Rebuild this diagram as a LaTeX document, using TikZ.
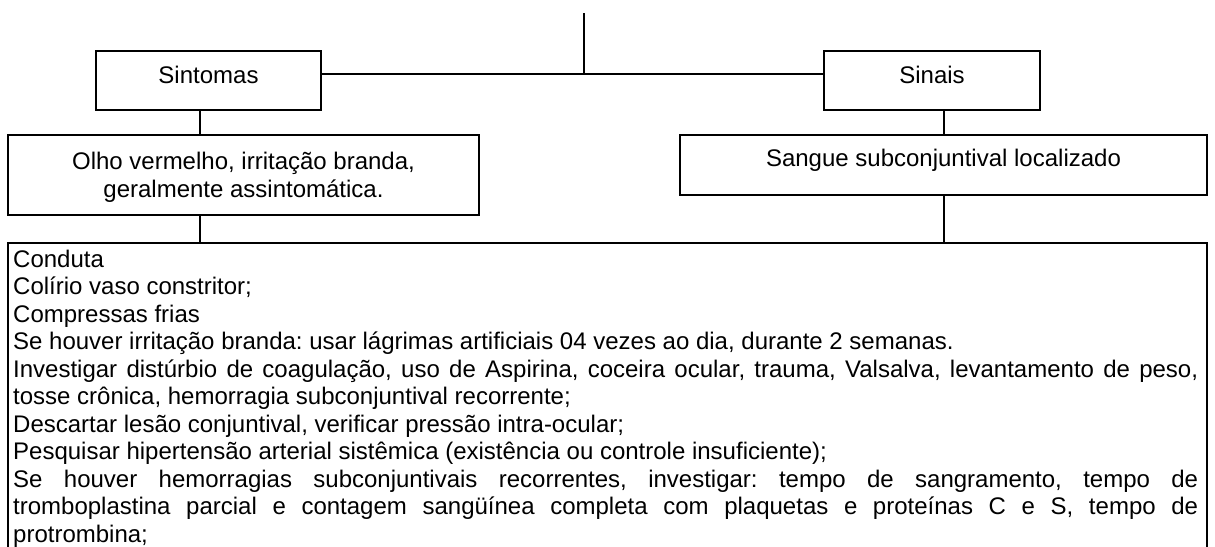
\documentclass[tikz,border=0pt]{standalone}
\usepackage{fontspec}
\setmainfont{Liberation Sans}
\setlength{\parindent}{0pt}
\setlength{\parskip}{0pt}
\tolerance=10000
\hyphenpenalty=10000
\frenchspacing

\begin{document}
\begin{tikzpicture}[x=1pt,y=-1pt,
  caixa/.style={draw, line width=1.6pt, inner sep=0pt, font=\fontsize{24}{27.5}\selectfont},
  linha/.style={line width=1.6pt}]

\useasboundingbox (0,0) rectangle (1215,546);

% Points for the connectors
\coordinate (topo) at (584,13);
\coordinate (juncao) at (584,74);
\coordinate (colE) at (200,0);
\coordinate (colD) at (944,0);
\coordinate (borda) at (0,243);

% Upper boxes
\node[caixa, minimum width=225pt, minimum height=59pt, text height=17.5pt, text depth=11.3pt] (sintomas) at (208.5,80.5) {Sintomas};
\node[caixa, minimum width=216pt, minimum height=59pt, text height=17.5pt, text depth=11.3pt] (sinais) at (932,80.5) {Sinais};

% Second row
\node[caixa, minimum width=471pt, minimum height=80pt, align=center, text depth=0pt] (olho) at (243.5,175)
  {Olho vermelho, irritação branda,\\ geralmente assintomática.};
\node[caixa, minimum width=527pt, minimum height=60pt, text height=17.5pt, text depth=14.3pt] (sangue) at (943.5,165) {Sangue subconjuntival localizado};

% Lower box, open at the bottom
\draw[linha] (8,560) |- (1207,243) -- (1207,560);
\node[anchor=north west, inner sep=0pt, text width=1185pt, align=justify,
  font=\fontsize{24}{27.5}\selectfont] (conduta) at (13,249.5) {%
Conduta\par
Colírio vaso constritor;\par
Compressas frias\par
Se houver irritação branda: usar lágrimas artificiais 04 vezes ao dia, durante 2 semanas.\par
Investigar distúrbio de coagulação, uso de Aspirina, coceira ocular, trauma, Valsalva, levantamento de peso,\linebreak tosse crônica, hemorragia subconjuntival recorrente;\par
Descartar lesão conjuntival, verificar pressão intra-ocular;\par
Pesquisar hipertensão arterial sistêmica (existência ou controle insuficiente);\par
Se houver hemorragias subconjuntivais recorrentes, investigar: tempo de sangramento, tempo de\linebreak tromboplastina parcial e contagem sangüínea completa com plaquetas e proteínas C e S, tempo de\linebreak protrombina;};

% Connectors
\draw[linha] (topo) -- (juncao);
\draw[linha] (sintomas.east |- juncao) -- (sinais.west |- juncao);
\draw[linha] (sintomas.south -| colE) -- (olho.north -| colE);
\draw[linha] (olho.south -| colE) -- (colE |- borda);
\draw[linha] (sinais.south -| colD) -- (sangue.north -| colD);
\draw[linha] (sangue.south -| colD) -- (colD |- borda);

\end{tikzpicture}
\end{document}
